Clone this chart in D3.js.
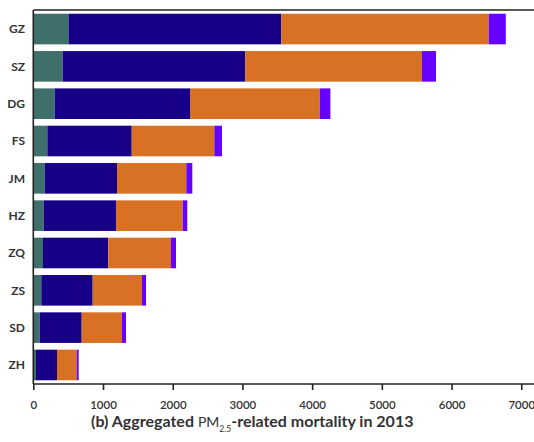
<!DOCTYPE html>
<html>
<head>
<meta charset="utf-8">
<script src="https://cdn.jsdelivr.net/npm/d3@7/dist/d3.min.js"></script>
<style>
  html, body { margin: 0; padding: 0; background: #fff; }
  svg { display: block; }
  text { font-family: Lato, "Open Sans", sans-serif; fill: #333; }
</style>
</head>
<body>
<svg id="chart" width="534" height="442"></svg>
<script>
// Cities, top to bottom
const cities = ["GZ", "SZ", "DG", "FS", "JM", "HZ", "ZQ", "ZS", "SD", "ZH"];

// Mortality by cause (stacked left to right)
const seriesA = [505, 421, 309, 201, 164, 149, 139, 115, 92, 39];
const seriesB = [3053, 2619, 1939, 1211, 1037, 1037, 937, 737, 602, 301];
const seriesC = [2976, 2536, 1862, 1185, 994, 957, 899, 707, 578, 283];
const seriesD = [244, 201, 152, 110, 86, 66, 72, 58, 58, 28];

const xTicks = [0, 1000, 2000, 3000, 4000, 5000, 6000, 7000];
const colors = ["#3e6f6a", "#170087", "#d97124", "#6600ff"];

const svg = d3.select("#chart");
const mLeft = 33.3, mTop = 10, mBottom = 384, mRight = 534;

const x = d3.scaleLinear().domain([0, 7000]).range([mLeft, mLeft + 7000 * 0.06971]);
const y = d3.scaleBand().domain(cities).range([mTop, mBottom])
  .paddingInner(0.18).paddingOuter(0.1);

const rows = cities.map((c, i) => ({ city: c, vals: [seriesA[i], seriesB[i], seriesC[i], seriesD[i]] }));
const keys = [0, 1, 2, 3];
const stack = d3.stack().keys(keys).value((d, k) => d.vals[k]);
const layers = stack(rows);

svg.append("g").selectAll("g").data(layers).join("g")
  .attr("fill", (d, i) => colors[i])
  .selectAll("rect").data(d => d).join("rect")
  .attr("x", d => x(d[0]))
  .attr("width", d => x(d[1]) - x(d[0]))
  .attr("y", d => y(d.data.city))
  .attr("height", y.bandwidth());

// Frame: top border and left axis line
svg.append("line").attr("x1", mLeft).attr("x2", mRight).attr("y1", mTop).attr("y2", mTop)
  .attr("stroke", "#222").attr("stroke-width", 1.6);
svg.append("line").attr("x1", mLeft).attr("x2", mLeft).attr("y1", mTop).attr("y2", mBottom)
  .attr("stroke", "#222").attr("stroke-width", 1.6);

// Bottom axis
const xAxis = d3.axisBottom(x).tickValues(xTicks).tickFormat(d3.format("d"))
  .tickSize(6).tickSizeOuter(0).tickPadding(11);
const gx = svg.append("g").attr("transform", `translate(0,${mBottom})`).call(xAxis);
gx.select(".domain").remove();
gx.append("line").attr("x1", mLeft).attr("x2", mRight).attr("stroke", "#222").attr("stroke-width", 1.6);
gx.selectAll(".tick line").attr("stroke", "#222").attr("stroke-width", 1.6);
gx.selectAll(".tick text").attr("font-size", 11.5).attr("font-family", "Lato, sans-serif")
  .attr("font-weight", 600).attr("fill", "#333");

// City labels
svg.append("g").selectAll("text").data(cities).join("text")
  .attr("x", 25)
  .attr("y", d => y(d) + y.bandwidth() / 2)
  .attr("dy", "0.35em")
  .attr("text-anchor", "end")
  .attr("font-size", 12)
  .attr("font-weight", 700)
  .text(d => d);

// Caption
const cap = svg.append("text").attr("x", 91).attr("y", 427)
  .attr("font-size", 16).attr("font-weight", 700);
cap.append("tspan").text("(b) Aggregated ");
cap.append("tspan").attr("font-weight", 400).attr("font-size", 14).text("PM");
cap.append("tspan").attr("font-weight", 400).attr("font-size", 8.5).attr("dy", 5).text("2.5");
cap.append("tspan").attr("dy", -5).text("-related mortality in 2013");
</script>
</body>
</html>
